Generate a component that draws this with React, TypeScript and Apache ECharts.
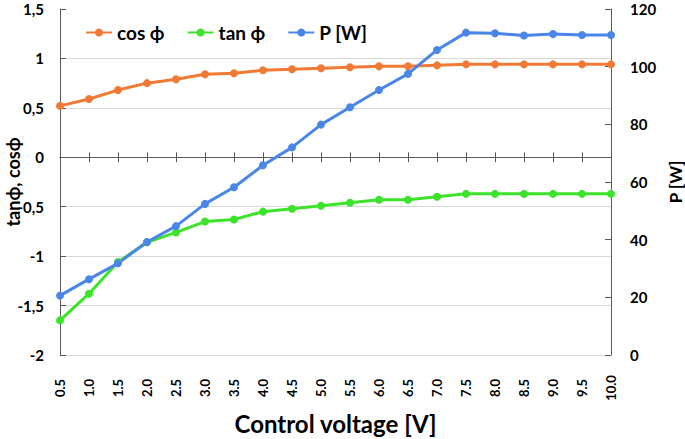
import React, { useEffect, useRef } from "react";
import * as echarts from "echarts";

const categories = ["0.5","1.0","1.5","2.0","2.5","3.0","3.5","4.0","4.5","5.0","5.5","6.0","6.5","7.0","7.5","8.0","8.5","9.0","9.5","10.0"];
const cosPhi = [0.52,0.59,0.68,0.75,0.79,0.84,0.85,0.88,0.89,0.9,0.91,0.92,0.92,0.93,0.94,0.94,0.94,0.94,0.94,0.94];
const tanPhi = [-1.65,-1.38,-1.06,-0.86,-0.76,-0.65,-0.63,-0.55,-0.52,-0.49,-0.46,-0.43,-0.43,-0.4,-0.37,-0.37,-0.37,-0.37,-0.37,-0.37];
const power = [20.6,26.3,31.8,39.2,44.7,52.4,58.2,65.8,72.0,79.9,85.9,91.9,97.5,105.8,111.8,111.6,110.8,111.3,111.0,111.0];

const FONT = "Lato";
const AXIS_COLOR = "#595959";
const GRID_COLOR = "#d9d9d9";

export default function App() {
  const ref = useRef<HTMLDivElement>(null);
  useEffect(() => {
    if (!ref.current) return;
    const chart = echarts.init(ref.current, undefined, { renderer: "svg" });
    const lineSeries = (name: string, data: number[], color: string, yAxisIndex: number) => ({
      name,
      type: "line",
      data,
      yAxisIndex,
      xAxisIndex: 0,
      symbol: "circle",
      symbolSize: 8,
      itemStyle: { color },
      lineStyle: { color, width: 3 },
      z: 3,
    });
    chart.setOption({
      animation: false,
      grid: { left: 60, right: 74, top: 9, bottom: 84, outerBoundsMode: "none", containLabel: false },
      legend: {
        left: 80,
        top: 18,
        itemWidth: 26,
        itemHeight: 10,
        itemGap: 22,
        textStyle: { fontFamily: FONT, fontWeight: "bold", fontSize: 19, color: "#000" },
        data: ["cos ϕ", "tan ϕ", "P [W]"],
      },
      xAxis: [
        {
          type: "category",
          data: categories,
          boundaryGap: false,
          position: "bottom",
          axisLine: { show: false },
          axisTick: { show: false },
          axisLabel: {
            rotate: 90,
            align: "center",
            verticalAlign: "middle",
            margin: 33,
            fontFamily: FONT,
            fontWeight: "bold",
            fontSize: 13,
            color: "#000",
            interval: 0,
          },
          name: "Control voltage [V]",
          nameLocation: "middle",
          nameGap: 56,
          nameMoveOverlap: false,
          nameTextStyle: { fontFamily: FONT, fontWeight: "bold", fontSize: 24, color: "#000" },
        },
        {
          type: "category",
          data: categories,
          boundaryGap: false,
          position: "bottom",
          axisLine: { show: true, onZero: true, onZeroAxisIndex: 0, lineStyle: { color: AXIS_COLOR, width: 1 } },
          axisTick: { show: true, inside: false, length: 5, interval: 0, lineStyle: { color: AXIS_COLOR } },
          axisLabel: { show: false },
          splitLine: { show: false },
        },
        {
          type: "category",
          data: categories,
          boundaryGap: false,
          position: "bottom",
          axisLine: { show: true, onZero: true, onZeroAxisIndex: 0, lineStyle: { color: AXIS_COLOR, width: 1 } },
          axisTick: { show: true, inside: true, length: 5, interval: 0, lineStyle: { color: AXIS_COLOR } },
          axisLabel: { show: false },
          splitLine: { show: false },
        },
      ],
      yAxis: [
        {
          type: "value",
          min: -2,
          max: 1.5,
          interval: 0.5,
          position: "left",
          axisLine: { show: true, onZero: false, lineStyle: { color: AXIS_COLOR } },
          axisTick: { show: true, inside: true, length: 6, lineStyle: { color: AXIS_COLOR } },
          axisLabel: {
            margin: 16,
            fontFamily: FONT,
            fontWeight: "bold",
            fontSize: 15,
            color: "#000",
            formatter: (v: number) => String(v).replace(".", ","),
          },
          splitLine: {
            show: true,
            lineStyle: {
              color: [GRID_COLOR, GRID_COLOR, GRID_COLOR, GRID_COLOR, GRID_COLOR, GRID_COLOR, GRID_COLOR, "transparent"],
              width: 1,
            },
          },
          name: "tanϕ, cosϕ",
          nameLocation: "middle",
          nameRotate: 90,
          nameGap: 38,
          nameMoveOverlap: false,
          nameTextStyle: { fontFamily: FONT, fontWeight: "bold", fontSize: 18, color: "#000" },
        },
        {
          type: "value",
          min: 0,
          max: 120,
          interval: 20,
          position: "right",
          axisLine: { show: true, onZero: false, lineStyle: { color: AXIS_COLOR } },
          axisTick: { show: true, inside: true, length: 6, lineStyle: { color: AXIS_COLOR } },
          axisLabel: {
            margin: 19,
            fontFamily: FONT,
            fontWeight: "bold",
            fontSize: 15,
            color: "#000",
          },
          splitLine: { show: false },
          name: "P [W]",
          nameLocation: "middle",
          nameRotate: 90,
          nameGap: 56,
          nameMoveOverlap: false,
          nameTextStyle: { fontFamily: FONT, fontWeight: "bold", fontSize: 17, color: "#000" },
        },
      ],
      series: [
        lineSeries("cos ϕ", cosPhi, "#F07A35", 0),
        lineSeries("tan ϕ", tanPhi, "#3DE32B", 0),
        lineSeries("P [W]", power, "#4A86E8", 1),
      ],
    });
    return () => chart.dispose();
  }, []);
  return <div ref={ref} style={{ width: 685, height: 439, position: "absolute", left: 0, top: 0, background: "#fff" }} />;
}
